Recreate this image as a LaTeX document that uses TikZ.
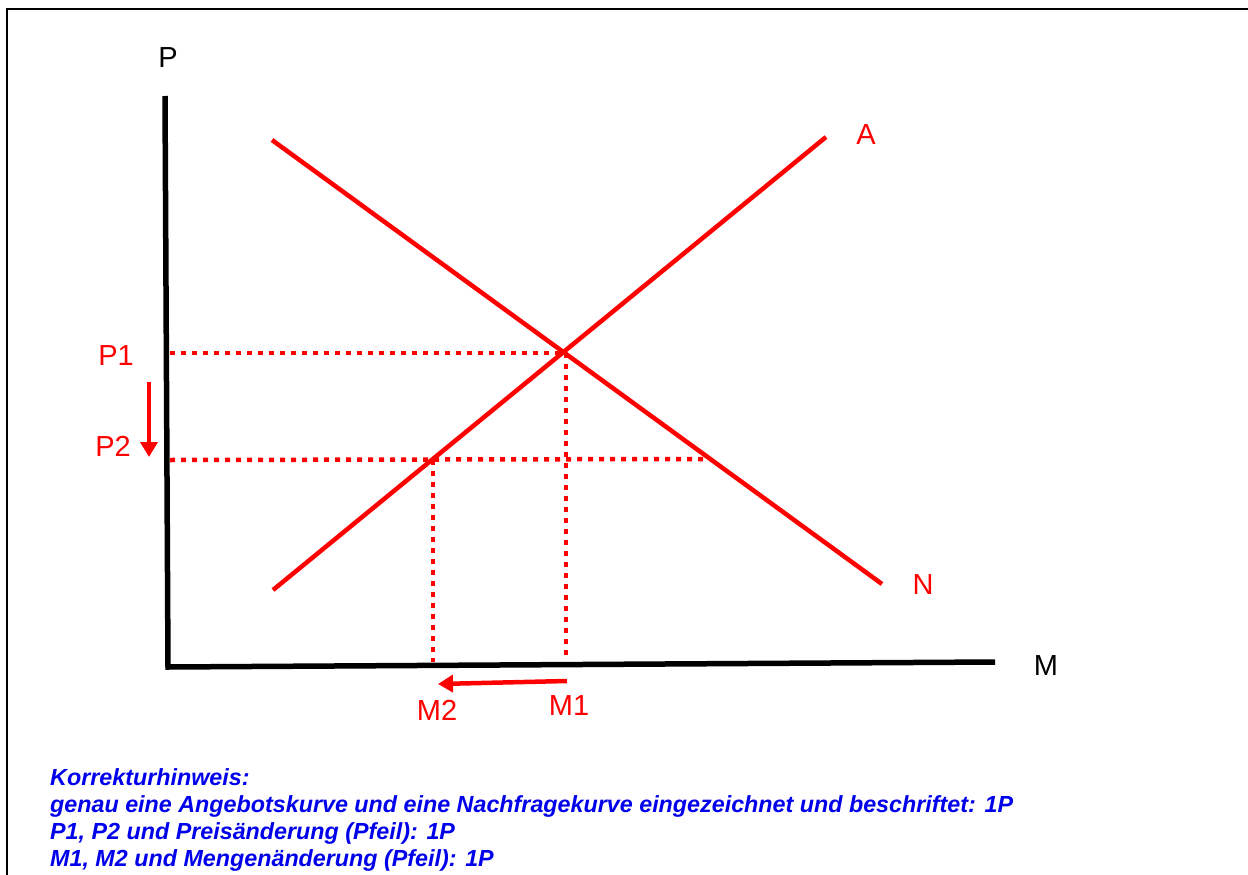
\documentclass[tikz,border=0pt]{standalone}
\usepackage{fontspec}
\setmainfont{Liberation Sans}
\usetikzlibrary{arrows.meta}
\definecolor{cred}{RGB}{255,0,0}
\definecolor{cblue}{RGB}{0,0,235}
\begin{document}
\begin{tikzpicture}[x=1pt,y=-1pt,
  axis/.style={line width=5.5pt,black},
  curve/.style={line width=4.5pt,cred},
  guide/.style={line width=4.5pt,cred,dash pattern=on 5pt off 6pt},
  lbl/.style={text=cred,font=\fontsize{29}{29}\selectfont,inner sep=0pt},
  albl/.style={text=black,font=\fontsize{29}{29}\selectfont,inner sep=0pt},
  shiftarrow/.style={line width=4.5pt,cred,-{Triangle[length=15pt,width=17pt]}},
  note/.style={text=cblue,font=\fontsize{23.3}{23.3}\selectfont\bfseries\itshape,inner sep=0pt,anchor=base west}
]
\useasboundingbox (0,0) rectangle (1248,875);
% frame
\draw[line width=2.5pt] (7,875) -- (7,9) -- (1248,9);
% axes
\coordinate (ytop) at (165,96);
\coordinate (orig) at (168,667);
\coordinate (xend) at (995,662);
\draw[axis] (ytop) -- (orig) -- (xend);
\node[albl] (P) at (168,58) {P};
\node[albl] (M) at (1046,666) {M};
% curves
\coordinate (A0) at (273,590);
\coordinate (A1) at (826,137);
\coordinate (N0) at (272,140);
\coordinate (N1) at (882,584);
\draw[curve] (A0) -- (A1);
\draw[curve] (N0) -- (N1);
\node[lbl] (A) at (866,135) {A};
\node[lbl] (N) at (923,585) {N};
% guides
\coordinate (p1l) at (170,353);
\coordinate (E1) at (563,353);
\coordinate (p2l) at (170,460);
\coordinate (E2) at (433,460);
\coordinate (Nr) at (708,459);
\coordinate (m1t) at (566,353);
\coordinate (m1b) at (566,660);
\coordinate (m2b) at (433,662);
\draw[guide] (p1l) -- (E1);
\draw[guide] (p2l) -- (Nr);
\draw[guide] (m1t) -- (m1b);
\draw[guide] (E2) -- (m2b);
\node[lbl] (P1) at (116,356) {P1};
\node[lbl] (P2) at (113,446) {P2};
\node[lbl] (M1) at (569,706) {M1};
\node[lbl] (M2) at (437,710) {M2};
% shift arrows
\coordinate (pa0) at (149,382);
\coordinate (pa1) at (149,457);
\coordinate (ma0) at (567,681);
\coordinate (ma1) at (438,684);
\draw[shiftarrow] (pa0) -- (pa1);
\draw[shiftarrow] (ma0) -- (ma1);
% notes
\node[note] (n1) at (50,785) {Korrekturhinweis:};
\node[note] (n2) at (50,812) {genau eine Angebotskurve und eine Nachfragekurve eingezeichnet und beschriftet: 1P};
\node[note] (n3) at (50,839) {P1, P2 und Preisänderung (Pfeil): 1P};
\node[note] (n4) at (50,866) {M1, M2 und Mengenänderung (Pfeil): 1P};
\end{tikzpicture}
\end{document}
